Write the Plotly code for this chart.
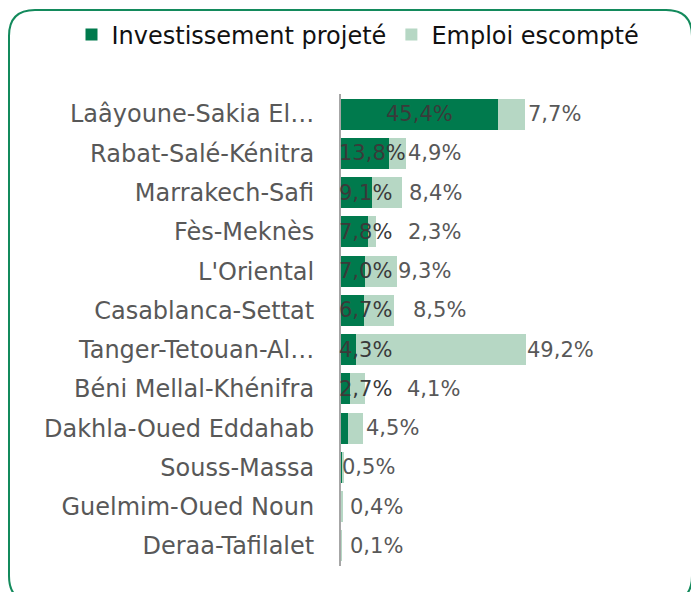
import plotly.graph_objects as go

# ---------------- data ----------------
regions = [
    "Laâyoune-Sakia El…",
    "Rabat-Salé-Kénitra",
    "Marrakech-Safi",
    "Fès-Meknès",
    "L'Oriental",
    "Casablanca-Settat",
    "Tanger-Tetouan-Al…",
    "Béni Mellal-Khénifra",
    "Dakhla-Oued Eddahab",
    "Souss-Massa",
    "Guelmim-Oued Noun",
    "Deraa-Tafilalet",
]
investissement = [45.4, 13.8, 9.1, 7.8, 7.0, 6.7, 4.3, 2.7, 2.0, 0.3, 0.1, 0.1]
emploi = [7.7, 4.9, 8.4, 2.3, 9.3, 8.5, 49.2, 4.1, 4.5, 0.5, 0.4, 0.1]
show_invest_label = [True] * 8 + [False] * 4
series_names = ["Investissement projeté", "Emploi escompté"]

# ---------------- style / layout ----------------
W, H = 699, 592
OFF = 8  # page body margin offset
DARK = "#007A4D"
LIGHT = "#B6D7C4"
TEXT = "#585858"
FONT = "DejaVu Sans"
PLOT_L, PLOT_R = 341, 687
PLOT_T, PLOT_B = 94.4, 565.6
XMAX = 100
PX_PER_UNIT = (PLOT_R - PLOT_L) / XMAX
emp_label_gap_px = [4, 3, 8, 33, 2, 20, 2, 43, 4, -1, 8, 9]


def fmt(v):
    return f"{v:.1f}".replace(".", ",") + "%"


def px(x):
    return (x - OFF) / W


def py(y):
    return 1 - (y - OFF) / H


fig = go.Figure()
fig.add_trace(go.Bar(
    y=regions, x=investissement, orientation="h", name=series_names[0],
    marker=dict(color=DARK, line=dict(width=0)), hoverinfo="skip",
))
fig.add_trace(go.Bar(
    y=regions, x=emploi, orientation="h", name=series_names[1],
    marker=dict(color=LIGHT, line=dict(width=0)), hoverinfo="skip",
))

val_font = dict(family=FONT, size=21, color="#3a3a3a")
annotations = []
for i, reg in enumerate(regions):
    inv = investissement[i]
    emp = emploi[i]
    if show_invest_label[i]:
        txt = fmt(inv)
        est_w = len(txt) * 13
        if inv * PX_PER_UNIT >= est_w + 10:
            annotations.append(dict(x=inv / 2, y=reg, xref="x", yref="y", text=txt,
                                    showarrow=False, xanchor="center", font=val_font))
        else:
            annotations.append(dict(x=0, y=reg, xref="x", yref="y", text=txt,
                                    showarrow=False, xanchor="left", xshift=-4, font=val_font))
    annotations.append(dict(x=inv + emp, y=reg, xref="x", yref="y", text=fmt(emp),
                            showarrow=False, xanchor="left", xshift=emp_label_gap_px[i] - 3,
                            font=dict(val_font, color=TEXT)))

fl, ft, fr, fb, rad = 9, 10, 692, 602, 26
path = (
    f"M {px(fl)},{py(ft + rad)} "
    f"Q {px(fl)},{py(ft)} {px(fl + rad)},{py(ft)} "
    f"L {px(fr - rad)},{py(ft)} "
    f"Q {px(fr)},{py(ft)} {px(fr)},{py(ft + rad)} "
    f"L {px(fr)},{py(fb - rad)} "
    f"Q {px(fr)},{py(fb)} {px(fr - rad)},{py(fb)} "
    f"L {px(fl + rad)},{py(fb)} "
    f"Q {px(fl)},{py(fb)} {px(fl)},{py(fb - rad)} Z"
)

fig.update_layout(
    width=W, height=H, autosize=False,
    margin=dict(l=0, r=0, t=0, b=0),
    paper_bgcolor="white", plot_bgcolor="white",
    barmode="stack", bargap=0.21,
    font=dict(family=FONT, color=TEXT),
    showlegend=True,
    legend=dict(orientation="h", x=px(358), xanchor="center", y=py(35), yanchor="middle",
                font=dict(family=FONT, size=24, color="#111111"),
                traceorder="normal", itemwidth=30, bgcolor="rgba(0,0,0,0)"),
    xaxis=dict(domain=[px(PLOT_L), px(PLOT_R)], range=[0, XMAX], visible=False, fixedrange=True),
    yaxis=dict(domain=[py(PLOT_B), py(PLOT_T)], type="category", autorange="reversed",
               showline=True, linecolor="#A6A6A6", linewidth=2, ticks="",
               showgrid=False, ticklabelstandoff=20,
               tickfont=dict(family=FONT, size=24, color=TEXT)),
    annotations=annotations,
    shapes=[dict(type="path", path=path, xref="paper", yref="paper",
                 line=dict(color="#138A5C", width=2), fillcolor="rgba(0,0,0,0)", layer="above")],
)

fig.write_html("out.html")
